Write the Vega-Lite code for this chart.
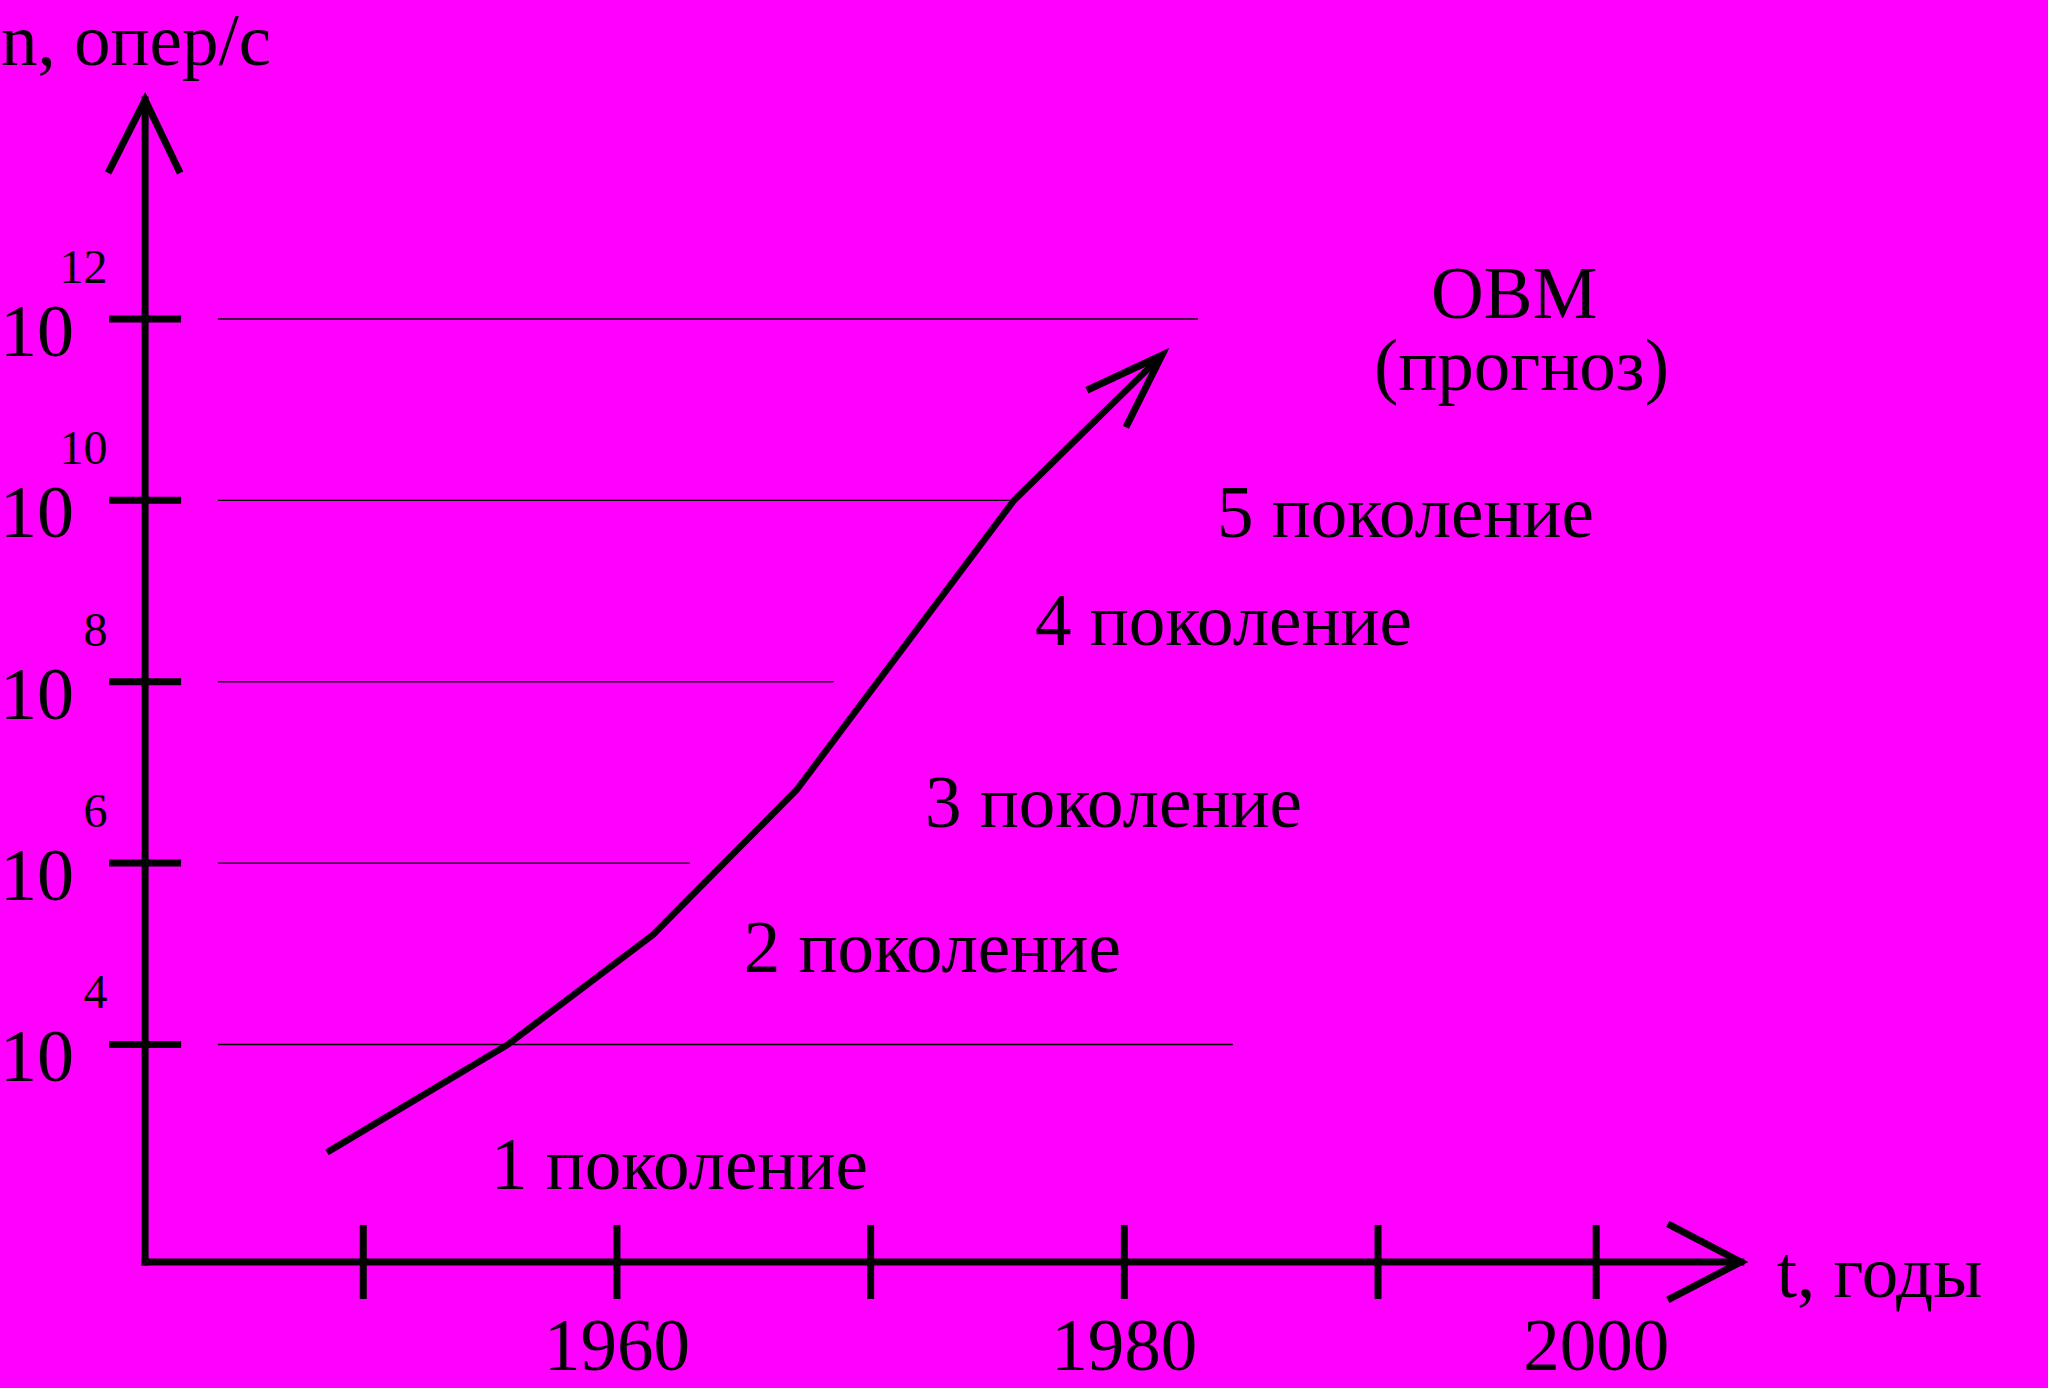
{
  "$schema": "https://vega.github.io/schema/vega-lite/v6.json",
  "width": 2048,
  "height": 1388,
  "padding": 0,
  "autosize": "none",
  "background": "#ff00ff",
  "config": {"view": {"stroke": null}, "text": {"font": "Liberation Serif", "color": "black"}},
  "datasets": {
    "curve": [
      {"t": 1948.57, "lg": 2.81},
      {"t": 1955.70, "lg": 4.0},
      {"t": 1961.42, "lg": 5.21},
      {"t": 1967.09, "lg": 6.81},
      {"t": 1975.65, "lg": 10.0},
      {"t": 1981.48, "lg": 11.6}
    ],
    "gridlines": [
      {"lg": 4, "t": 1944.27, "t2": 1984.28},
      {"lg": 6, "t": 1944.27, "t2": 1962.88},
      {"lg": 8, "t": 1944.27, "t2": 1968.55},
      {"lg": 10, "t": 1944.27, "t2": 1975.73},
      {"lg": 12, "t": 1944.27, "t2": 1982.90}
    ],
    "yticks": [
      {"lg": 4, "exp": "4"},
      {"lg": 6, "exp": "6"},
      {"lg": 8, "exp": "8"},
      {"lg": 10, "exp": "10"},
      {"lg": 12, "exp": "12"}
    ],
    "xticks": [
      {"t": 1950, "label": ""},
      {"t": 1960, "label": "1960"},
      {"t": 1970, "label": ""},
      {"t": 1980, "label": "1980"},
      {"t": 1990, "label": ""},
      {"t": 1998.6, "label": "2000"}
    ],
    "axes": [
      {"axis": "y", "t": 1941.4, "lg": 1.602, "t2": 1941.4, "lg2": 14.415},
      {"axis": "x", "t": 1941.4, "lg": 1.602, "t2": 2004.3, "lg2": 1.602}
    ],
    "labels": [
      {"text": "n, опер/с", "t": 1935.72, "lg": 14.80},
      {"text": "t, годы", "t": 2005.72, "lg": 1.216},
      {"text": "1 поколение", "t": 1955.03, "lg": 2.407},
      {"text": "2 поколение", "t": 1965.0, "lg": 4.80},
      {"text": "3 поколение", "t": 1972.14, "lg": 6.40},
      {"text": "4 поколение", "t": 1976.48, "lg": 8.41},
      {"text": "5 поколение", "t": 1983.65, "lg": 9.60},
      {"text": "ОВМ", "t": 1992.09, "lg": 12.011},
      {"text": "(прогноз)", "t": 1989.84, "lg": 11.217}
    ]
  },
  "layer": [
    {
      "data": {"name": "gridlines"},
      "mark": {"type": "rule", "color": "black", "strokeWidth": 1.4},
      "encoding": {
        "x": {"field": "t", "type": "quantitative", "scale": {"domain": [1935.68, 2016.41], "nice": false, "zero": false}, "axis": null},
        "x2": {"field": "t2"},
        "y": {"field": "lg", "type": "quantitative", "scale": {"domain": [0.212, 15.517], "nice": false, "zero": false}, "axis": null}
      }
    },
    {
      "data": {"name": "axes"},
      "mark": {"type": "rule", "color": "black", "strokeWidth": 7, "strokeCap": "square"},
      "encoding": {
        "x": {"field": "t", "type": "quantitative", "scale": {"domain": [1935.68, 2016.41], "nice": false, "zero": false}, "axis": null},
        "x2": {"field": "t2"},
        "y": {"field": "lg", "type": "quantitative", "scale": {"domain": [0.212, 15.517], "nice": false, "zero": false}, "axis": null},
        "y2": {"field": "lg2"}
      }
    },
    {
      "data": {"name": "axes"},
      "transform": [{"filter": "datum.axis === 'y'"}],
      "mark": {"type": "point", "shape": "M-0.4625,0.9125L0,0L0.4375,0.9125", "size": 25600, "filled": false, "color": "black", "strokeWidth": 7, "opacity": 1},
      "encoding": {
        "x": {"field": "t2", "type": "quantitative", "scale": {"domain": [1935.68, 2016.41], "nice": false, "zero": false}, "axis": null},
        "y": {"field": "lg2", "type": "quantitative", "scale": {"domain": [0.212, 15.517], "nice": false, "zero": false}, "axis": null}
      }
    },
    {
      "data": {"name": "axes"},
      "transform": [{"filter": "datum.axis === 'x'"}],
      "mark": {"type": "point", "shape": "M-0.9125,-0.475L0,0L-0.9125,0.475", "size": 25600, "filled": false, "color": "black", "strokeWidth": 7, "opacity": 1},
      "encoding": {
        "x": {"field": "t2", "type": "quantitative", "scale": {"domain": [1935.68, 2016.41], "nice": false, "zero": false}, "axis": null},
        "y": {"field": "lg2", "type": "quantitative", "scale": {"domain": [0.212, 15.517], "nice": false, "zero": false}, "axis": null}
      }
    },
    {
      "data": {"name": "yticks"},
      "mark": {"type": "tick", "orient": "horizontal", "size": 72, "thickness": 7, "color": "black", "opacity": 1},
      "encoding": {
        "x": {"datum": 1941.4, "type": "quantitative", "scale": {"domain": [1935.68, 2016.41], "nice": false, "zero": false}, "axis": null},
        "y": {"field": "lg", "type": "quantitative", "scale": {"domain": [0.212, 15.517], "nice": false, "zero": false}, "axis": null}
      }
    },
    {
      "data": {"name": "xticks"},
      "mark": {"type": "tick", "orient": "vertical", "size": 74, "thickness": 7, "color": "black", "opacity": 1},
      "encoding": {
        "x": {"field": "t", "type": "quantitative", "scale": {"domain": [1935.68, 2016.41], "nice": false, "zero": false}, "axis": null},
        "y": {"datum": 1.602, "type": "quantitative", "scale": {"domain": [0.212, 15.517], "nice": false, "zero": false}, "axis": null}
      }
    },
    {
      "data": {"name": "curve"},
      "mark": {"type": "line", "color": "black", "strokeWidth": 6.5, "strokeJoin": "miter"},
      "encoding": {
        "x": {"field": "t", "type": "quantitative", "scale": {"domain": [1935.68, 2016.41], "nice": false, "zero": false}, "axis": null},
        "y": {"field": "lg", "type": "quantitative", "scale": {"domain": [0.212, 15.517], "nice": false, "zero": false}, "axis": null}
      }
    },
    {
      "data": {"name": "curve"},
      "transform": [
        {"joinaggregate": [{"op": "max", "field": "t", "as": "tmax"}]},
        {"filter": "datum.t === datum.tmax"}
      ],
      "mark": {"type": "point", "shape": "M-0.9375,0.4375L0,0L-0.45,0.9", "size": 25600, "filled": false, "color": "black", "strokeWidth": 7, "opacity": 1},
      "encoding": {
        "x": {"field": "t", "type": "quantitative", "scale": {"domain": [1935.68, 2016.41], "nice": false, "zero": false}, "axis": null},
        "y": {"field": "lg", "type": "quantitative", "scale": {"domain": [0.212, 15.517], "nice": false, "zero": false}, "axis": null}
      }
    },
    {
      "data": {"name": "yticks"},
      "mark": {"type": "text", "text": "10", "align": "left", "baseline": "alphabetic", "dy": 37, "fontSize": 74},
      "encoding": {
        "x": {"datum": 1935.68, "type": "quantitative", "scale": {"domain": [1935.68, 2016.41], "nice": false, "zero": false}, "axis": null},
        "y": {"field": "lg", "type": "quantitative", "scale": {"domain": [0.212, 15.517], "nice": false, "zero": false}, "axis": null}
      }
    },
    {
      "data": {"name": "yticks"},
      "mark": {"type": "text", "align": "right", "baseline": "alphabetic", "dy": -36, "fontSize": 48},
      "encoding": {
        "x": {"datum": 1939.92, "type": "quantitative", "scale": {"domain": [1935.68, 2016.41], "nice": false, "zero": false}, "axis": null},
        "y": {"field": "lg", "type": "quantitative", "scale": {"domain": [0.212, 15.517], "nice": false, "zero": false}, "axis": null},
        "text": {"field": "exp"}
      }
    },
    {
      "data": {"name": "xticks"},
      "transform": [{"filter": "datum.label !== ''"}],
      "mark": {"type": "text", "align": "center", "baseline": "alphabetic", "fontSize": 73},
      "encoding": {
        "x": {"field": "t", "type": "quantitative", "scale": {"domain": [1935.68, 2016.41], "nice": false, "zero": false}, "axis": null},
        "y": {"datum": 0.411, "type": "quantitative", "scale": {"domain": [0.212, 15.517], "nice": false, "zero": false}, "axis": null},
        "text": {"field": "label"}
      }
    },
    {
      "data": {"name": "labels"},
      "mark": {"type": "text", "align": "left", "baseline": "alphabetic", "fontSize": 73},
      "encoding": {
        "x": {"field": "t", "type": "quantitative", "scale": {"domain": [1935.68, 2016.41], "nice": false, "zero": false}, "axis": null},
        "y": {"field": "lg", "type": "quantitative", "scale": {"domain": [0.212, 15.517], "nice": false, "zero": false}, "axis": null},
        "text": {"field": "text"}
      }
    }
  ]
}
